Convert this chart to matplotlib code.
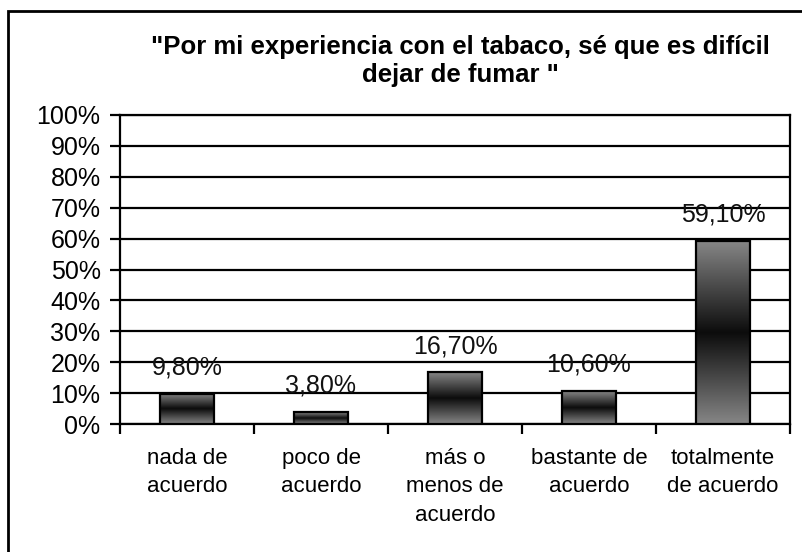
import numpy as np
import matplotlib
matplotlib.use("Agg")
import matplotlib.pyplot as plt
from matplotlib.colors import LinearSegmentedColormap
from matplotlib.patches import Rectangle

# ── Datos ────────────────────────────────────────────────────────────────
categorias = ["nada de\nacuerdo", "poco de\nacuerdo", "más o\nmenos de\nacuerdo",
              "bastante de\nacuerdo", "totalmente\nde acuerdo"]
valores = [9.80, 3.80, 16.70, 10.60, 59.10]
yticks = [0, 10, 20, 30, 40, 50, 60, 70, 80, 90, 100]
titulo = "\"Por mi experiencia con el tabaco, sé que es difícil\ndejar de fumar \""

plt.rcParams["font.family"] = ["Liberation Sans", "DejaVu Sans"]

W, H = 802, 552
fig = plt.figure(figsize=(W / 100, H / 100), dpi=100, facecolor="white")
ax = fig.add_axes([120 / W, 1 - 424 / H, (790 - 120) / W, (424 - 115) / H])

# degradado gris-negro-gris estilo Excel
cmap = LinearSegmentedColormap.from_list("excel", ["#868686", "#0c0c0c", "#868686"])
grad = np.linspace(0, 1, 256).reshape(-1, 1)

x = np.arange(len(valores))
ancho = 0.4
for xi, v in zip(x, valores):
    ax.imshow(grad, cmap=cmap, aspect="auto", interpolation="bilinear",
              extent=[xi - ancho / 2, xi + ancho / 2, 0, v], zorder=3)
bars = ax.bar(x, valores, width=ancho, facecolor="none", edgecolor="black",
              linewidth=1.6, zorder=4)

for xi, v in zip(x, valores):
    ax.annotate(f"{v:.2f}%".replace(".", ","), (xi, v), xytext=(0, 19),
                textcoords="offset points", ha="center", va="center",
                fontsize=18, color="#111111", zorder=5)

ax.set_xlim(-0.5, len(valores) - 0.5)
ax.set_ylim(0, 100)
ax.set_yticks(yticks)
ax.set_yticklabels([f"{t}%" for t in yticks], fontsize=18)
ax.yaxis.grid(True, color="black", linewidth=1.6, zorder=1)
ax.set_axisbelow(True)

ax.set_xticks(x)
ax.set_xticklabels(categorias, fontsize=16, linespacing=1.47)
ax.set_xticks(np.arange(len(valores) + 1) - 0.5, minor=True)
ax.tick_params(axis="x", which="major", length=0, pad=17)
ax.tick_params(axis="x", which="minor", length=7, width=1.6, direction="out")
ax.tick_params(axis="y", length=7, width=1.6, pad=7)

for s in ["left", "bottom", "right", "top"]:
    ax.spines[s].set_linewidth(1.6)
    ax.spines[s].set_color("black")

fig.text(460 / W, 1 - 61 / H, titulo, ha="center", va="center",
         fontsize=18.5, fontweight="bold", linespacing=1.18)

# marco exterior del gráfico (cortado a la derecha y abajo)
fig.patches.append(Rectangle((8 / W, -0.1), 1.2, 1 - 11 / H + 0.1,
                             transform=fig.transFigure, fill=False,
                             edgecolor="black", linewidth=2))

fig.savefig("out.png", dpi=100, facecolor="white")
